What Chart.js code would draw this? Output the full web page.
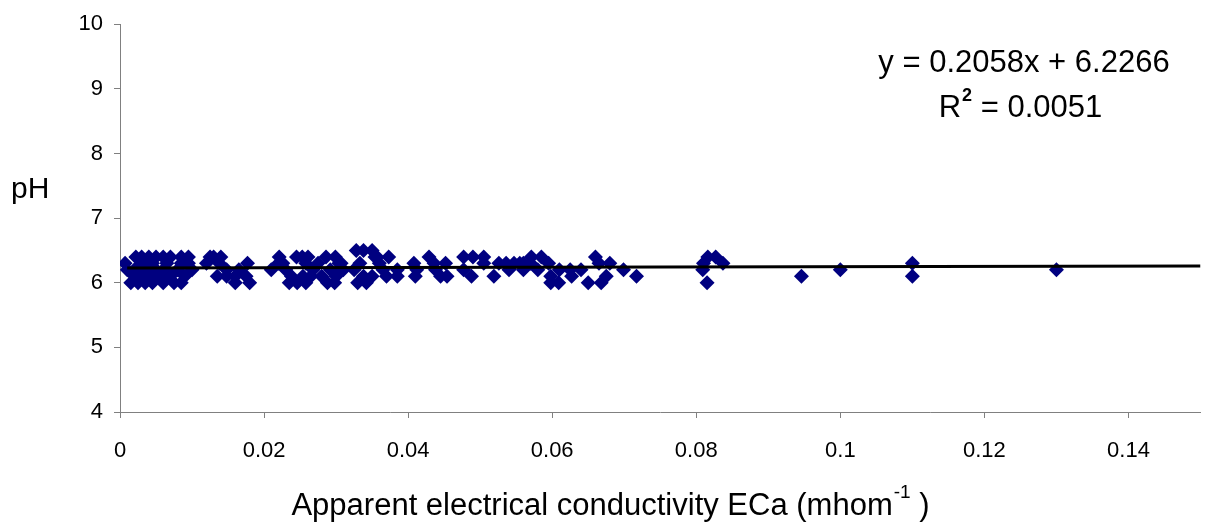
<!DOCTYPE html>
<html>
<head>
<meta charset="utf-8">
<script src="https://cdn.jsdelivr.net/npm/chart.js@4/dist/chart.umd.min.js"></script>
<style>
  html, body { margin: 0; padding: 0; background: #fff; }
  #wrap { width: 1208px; height: 525px; position: relative; }
</style>
</head>
<body>
<div id="wrap"><canvas id="c"></canvas></div>
<script>
// ─── Data (ECa readings grouped by measured pH) ──────────────────────────────
const ecaAtPH60 = [0.0015, 0.0025, 0.0035, 0.0045, 0.006, 0.0075, 0.0085, 0.016, 0.018, 0.0235, 0.0246,
  0.0258, 0.0288, 0.0298, 0.033, 0.0342, 0.0598, 0.0609, 0.065, 0.0668, 0.0815];
const ecaAtPH61 = [0.002, 0.003, 0.004, 0.005, 0.007, 0.009, 0.0135, 0.0148, 0.016, 0.0175, 0.0238, 0.0254,
  0.0265, 0.028, 0.03, 0.0338, 0.035, 0.037, 0.0385, 0.041, 0.0445, 0.0454, 0.0488, 0.0519, 0.0598, 0.0627,
  0.0675, 0.0717, 0.0946, 0.11];
const ecaAtPH62 = [0.001, 0.002, 0.0035, 0.005, 0.006, 0.008, 0.01, 0.0148, 0.0165, 0.021, 0.023, 0.0268,
  0.0292, 0.031, 0.0325, 0.0365, 0.0385, 0.0412, 0.0438, 0.0477, 0.054, 0.056, 0.058, 0.061, 0.0625, 0.064,
  0.0699, 0.0809, 0.1, 0.13];
const ecaAtPH63 = [0.0007, 0.003, 0.0045, 0.0065, 0.0085, 0.0095, 0.012, 0.0138, 0.0177, 0.022, 0.0226,
  0.0258, 0.0275, 0.0304, 0.0307, 0.0333, 0.036, 0.0408, 0.0436, 0.0452, 0.0505, 0.0526, 0.0536, 0.0547,
  0.0555, 0.056, 0.057, 0.0595, 0.0665, 0.068, 0.081, 0.0837, 0.11];
const ecaAtPH64 = [0.0022, 0.003, 0.004, 0.005, 0.006, 0.007, 0.0085, 0.0095, 0.0125, 0.013, 0.014, 0.0221,
  0.0245, 0.0253, 0.0261, 0.0286, 0.0299, 0.0354, 0.0357, 0.0373, 0.0429, 0.0477, 0.049, 0.0505, 0.0571,
  0.0585, 0.066, 0.0816, 0.0827];
const ecaAtPH65 = [0.0328, 0.0338, 0.035];

const phLevels = [6.0, 6.1, 6.2, 6.3, 6.4, 6.5];
const ecaGroups = [ecaAtPH60, ecaAtPH61, ecaAtPH62, ecaAtPH63, ecaAtPH64, ecaAtPH65];

const xTickValues = [0, 0.02, 0.04, 0.06, 0.08, 0.1, 0.12, 0.14];

// linear trend as printed on the chart
const trendSlope = 0.2058;
const trendIntercept = 6.2266;
const trendX = [0.001, 0.15];
const equationText = 'y = 0.2058x + 6.2266';
const r2Text = '0.0051';

const FONT = '"Liberation Sans", Arial, sans-serif';
const AXIS_GREY = '#808080';

// ─── Build datasets ──────────────────────────────────────────────────────────
const points = [];
ecaGroups.forEach((grp, i) => grp.forEach(x => points.push({ x, y: phLevels[i] })));
const trendPts = trendX.map(x => ({ x, y: trendSlope * x + trendIntercept }));

// ─── Text annotations (axis titles + regression label) ───────────────────────
const annotations = {
  id: 'annotations',
  afterDraw(chart) {
    const { ctx } = chart;
    ctx.save();
    ctx.fillStyle = '#000';
    ctx.textBaseline = 'alphabetic';

    // y title, horizontal
    ctx.font = `30px ${FONT}`;
    ctx.textAlign = 'left';
    ctx.fillText('pH', 11, 198);

    // regression equation
    ctx.font = `31px ${FONT}`;
    ctx.textAlign = 'center';
    ctx.fillText(equationText, 1024, 72);

    // R² line
    ctx.textAlign = 'left';
    const rW = ctx.measureText('R').width;
    ctx.font = `bold 18px ${FONT}`;
    const sW = ctx.measureText('2').width;
    ctx.font = `31px ${FONT}`;
    const rest = ' = ' + r2Text;
    const restW = ctx.measureText(rest).width;
    const x0 = 1020 - (rW + sW + restW) / 2;
    ctx.fillText('R', x0, 117);
    ctx.font = `bold 18px ${FONT}`;
    ctx.fillText('2', x0 + rW + 1, 101);
    ctx.font = `31px ${FONT}`;
    ctx.fillText(rest, x0 + rW + sW + 1, 117);

    // x title with superscript
    const main = 'Apparent electrical conductivity ECa (mhom';
    ctx.font = `31px ${FONT}`;
    const mW = ctx.measureText(main).width;
    ctx.font = `19px ${FONT}`;
    const supW = ctx.measureText('-1').width;
    ctx.font = `31px ${FONT}`;
    const tail = ' )';
    const tW = ctx.measureText(tail).width;
    const tx = 610 - (mW + supW + tW) / 2;
    ctx.fillText(main, tx, 515);
    ctx.font = `19px ${FONT}`;
    ctx.fillText('-1', tx + mW + 1, 498);
    ctx.font = `31px ${FONT}`;
    ctx.fillText(tail, tx + mW + supW + 1, 515);
    ctx.restore();
  }
};

new Chart(document.getElementById('c'), {
  type: 'scatter',
  data: {
    datasets: [
      { type: 'line', label: 'trend', data: trendPts, borderColor: '#000', borderWidth: 3,
        pointRadius: 0, fill: false, order: 0 },
      { label: 'pH', data: points, pointStyle: 'rectRot', pointRadius: 7.5,
        backgroundColor: '#000080', borderColor: '#000080', pointBorderWidth: 0, order: 1 },
    ]
  },
  options: {
    responsive: true, maintainAspectRatio: false, animation: false,
    layout: { padding: { left: 0, right: 3, top: 23, bottom: 0 } },
    plugins: { legend: { display: false }, tooltip: { enabled: false } },
    scales: {
      x: {
        type: 'linear', min: 0, max: 0.15,
        afterFit(s) { s.height = 113; },
        afterBuildTicks(s) { s.ticks = xTickValues.map(v => ({ value: v })); },
        ticks: { color: '#000', padding: 20, font: { family: FONT, size: 22 },
          callback: v => String(+v.toFixed(2)) },
        grid: { drawOnChartArea: false, tickLength: 6, color: AXIS_GREY },
        border: { color: AXIS_GREY, width: 1 }
      },
      y: {
        min: 4, max: 10,
        afterFit(s) { s.width = 120; },
        ticks: { stepSize: 1, color: '#000', padding: 11, font: { family: FONT, size: 22 } },
        grid: { drawOnChartArea: false, tickLength: 6, color: AXIS_GREY },
        border: { color: AXIS_GREY, width: 1 }
      }
    }
  },
  plugins: [annotations]
});
</script>
</body>
</html>
